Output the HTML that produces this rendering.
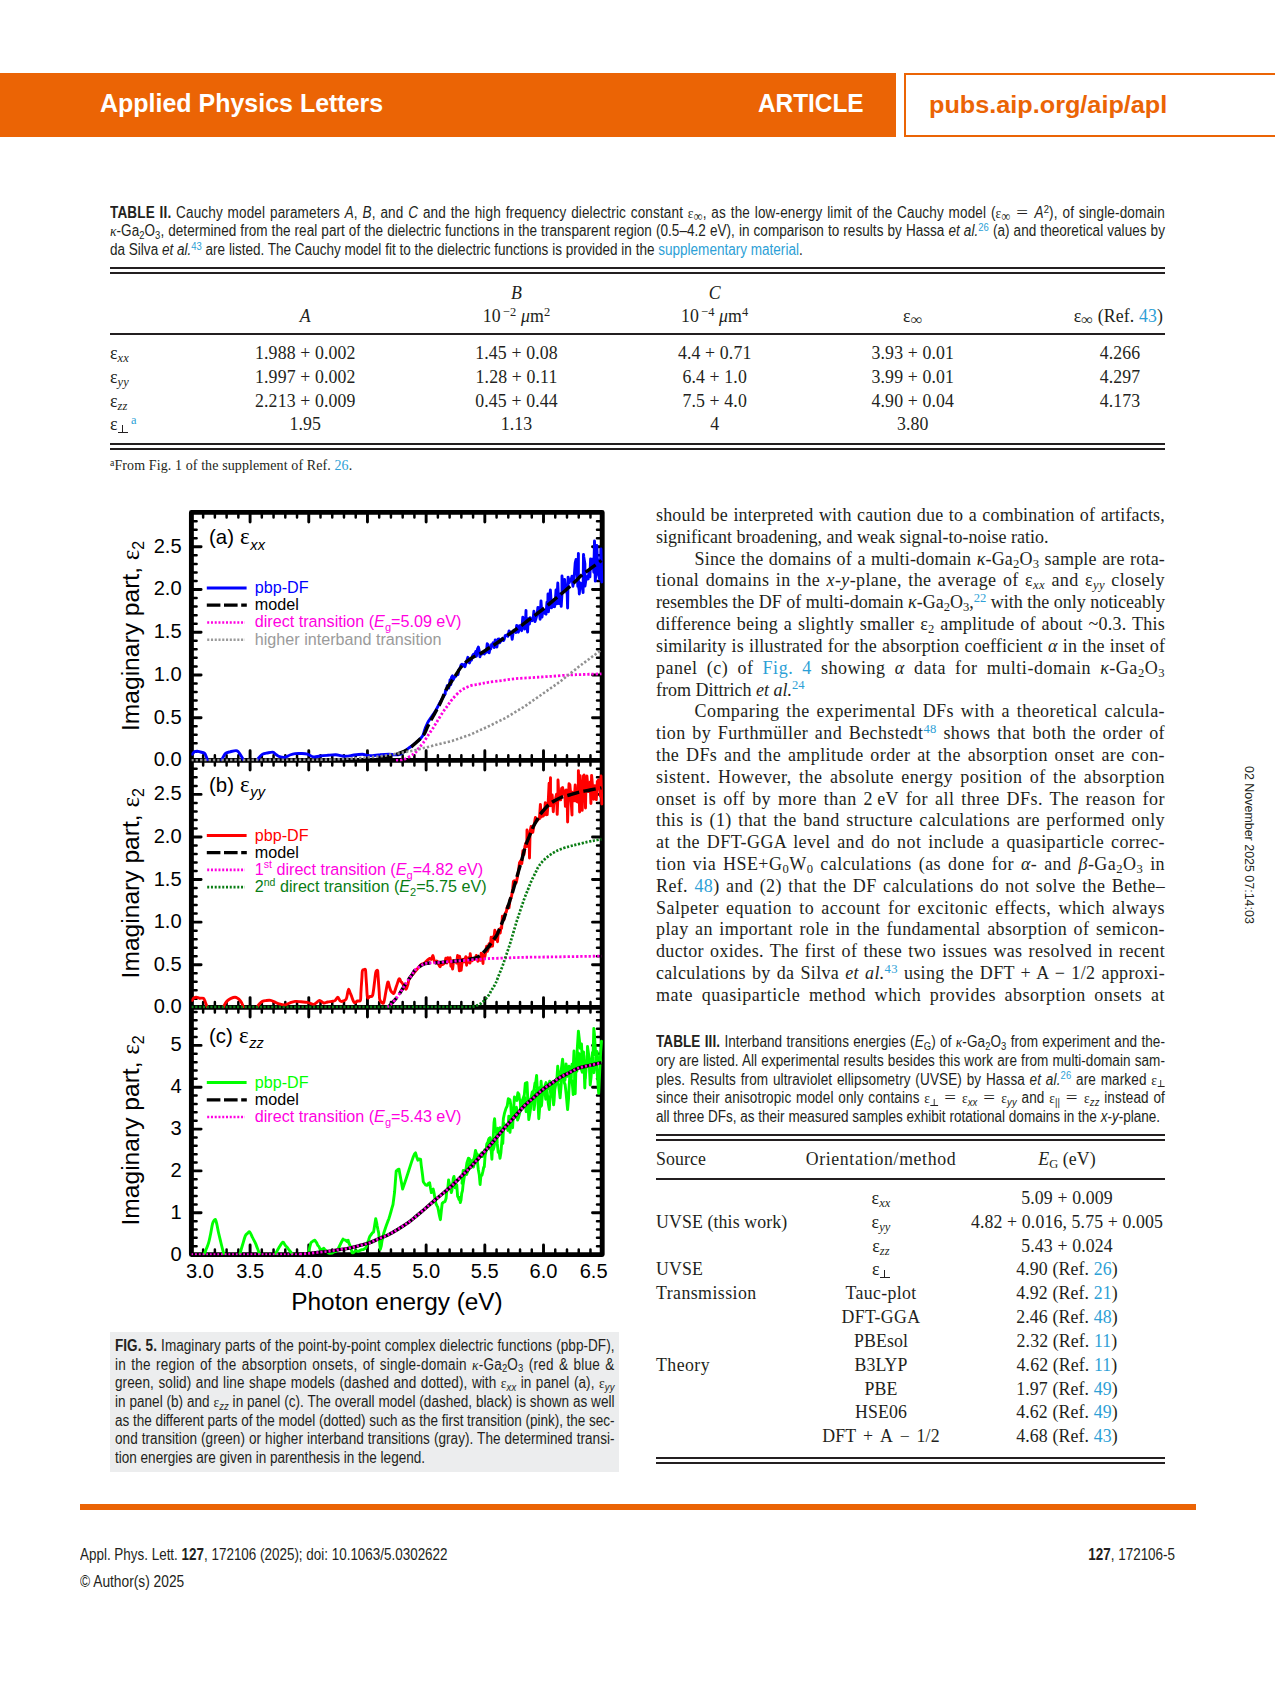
<!DOCTYPE html>
<html><head><meta charset="utf-8"><title>Applied Physics Letters</title>
<style>
html,body{margin:0;padding:0;background:#fff;}
html{width:1275px;height:1688px;overflow:hidden;}
body{width:1275px;height:1688px;position:relative;overflow:hidden;font-family:"Liberation Serif",serif;color:#231f20;}
.l{position:absolute;white-space:nowrap;transform-origin:0 0;}
.serif{font-family:"Liberation Serif",serif;}
.sans{font-family:"Liberation Sans",sans-serif;}
.sp{position:relative;top:-0.48em;font-size:0.7em;line-height:0;}
.sb{position:relative;top:0.24em;font-size:0.7em;line-height:0;}
.r{color:#2d9fd6;}
.inf{font-size:0.92em;top:0.2em;font-family:"Liberation Serif",serif;}
.op{padding:0 0.38em;}
.eq{font-family:"Liberation Serif",serif;font-size:1.1em;display:inline-block;transform:scaleX(1.4);margin:0 0.2em;line-height:0;}
.k{color:inherit;}
.se{font-family:"Liberation Serif",serif;}
i{font-style:italic;}
.perp{display:inline-block;position:relative;width:0.78em;height:0.66em;border-bottom:0.075em solid currentColor;box-sizing:border-box;margin:0 0.03em;}
.perp:after{content:"";position:absolute;left:50%;margin-left:-0.0375em;top:0;bottom:0;width:0.075em;background:currentColor;}
.box{position:absolute;}
</style></head><body>
<div class="box" style="left:0;top:73px;width:896px;height:64px;background:#EB6405"></div>
<div class="box" style="left:904px;top:73px;width:369px;height:60px;border:2px solid #EB6405;border-right:none"></div>
<div class="box" style="left:110px;top:267px;width:1055px;height:2px;background:#231f20"></div>
<div class="box" style="left:110px;top:272px;width:1055px;height:2px;background:#231f20"></div>
<div class="box" style="left:110px;top:333.2px;width:1055px;height:2px;background:#231f20"></div>
<div class="box" style="left:110px;top:443.3px;width:1055px;height:2px;background:#231f20"></div>
<div class="box" style="left:110px;top:448.3px;width:1055px;height:2px;background:#231f20"></div>
<div class="box" style="left:656px;top:1133.5px;width:509px;height:2px;background:#231f20"></div>
<div class="box" style="left:656px;top:1138.7px;width:509px;height:2px;background:#231f20"></div>
<div class="box" style="left:656px;top:1177.5px;width:509px;height:2px;background:#231f20"></div>
<div class="box" style="left:656px;top:1456.6px;width:509px;height:2px;background:#231f20"></div>
<div class="box" style="left:656px;top:1461.6px;width:509px;height:2px;background:#231f20"></div>
<div class="box" style="left:110px;top:1332.3px;width:509px;height:139.7px;background:#ecedee"></div>
<div class="box" style="left:80px;top:1504px;width:1116px;height:6px;background:#EB6405"></div>
<div class="l sans" style="left:1256.8px;top:766.2px;font-size:13.6px;line-height:16px;color:#231f20;transform:rotate(90deg) scaleX(0.916);transform-origin:0 0;">02 November 2025 07:14:03</div>
<svg style="position:absolute;left:0;top:0" width="1275" height="1688" viewBox="0 0 1275 1688" font-family="Liberation Sans, sans-serif">
<defs><clipPath id="cpA"><rect x="191.4" y="512.4" width="412.3" height="249.0"/></clipPath><clipPath id="cpB"><rect x="191.4" y="760.4" width="412.3" height="247.9"/></clipPath><clipPath id="cpC"><rect x="191.4" y="1007.3" width="412.3" height="248.3"/></clipPath></defs>
<path d="M250.09 512.40V522.10M308.77 512.40V522.10M367.46 512.40V522.10M426.14 512.40V522.10M484.83 512.40V522.10M543.51 512.40V522.10M250.09 750.70V770.10M308.77 750.70V770.10M367.46 750.70V770.10M426.14 750.70V770.10M484.83 750.70V770.10M543.51 750.70V770.10M250.09 997.60V1017.00M308.77 997.60V1017.00M367.46 997.60V1017.00M426.14 997.60V1017.00M484.83 997.60V1017.00M543.51 997.60V1017.00M250.09 1244.90V1254.60M308.77 1244.90V1254.60M367.46 1244.90V1254.60M426.14 1244.90V1254.60M484.83 1244.90V1254.60M543.51 1244.90V1254.60M191.40 717.68H201.10M602.20 717.68H592.50M191.40 674.96H201.10M602.20 674.96H592.50M191.40 632.24H201.10M602.20 632.24H592.50M191.40 589.52H201.10M602.20 589.52H592.50M191.40 546.80H201.10M602.20 546.80H592.50M191.40 964.72H201.10M602.20 964.72H592.50M191.40 922.14H201.10M602.20 922.14H592.50M191.40 879.56H201.10M602.20 879.56H592.50M191.40 836.98H201.10M602.20 836.98H592.50M191.40 794.40H201.10M602.20 794.40H592.50M191.40 1212.76H201.10M602.20 1212.76H592.50M191.40 1170.92H201.10M602.20 1170.92H592.50M191.40 1129.08H201.10M602.20 1129.08H592.50M191.40 1087.24H201.10M602.20 1087.24H592.50M191.40 1045.40H201.10M602.20 1045.40H592.50" stroke="#000" stroke-width="2.9" stroke-linecap="round" fill="none"/>
<path d="M203.14 512.40V517.60M214.87 512.40V517.60M226.61 512.40V517.60M238.35 512.40V517.60M261.82 512.40V517.60M273.56 512.40V517.60M285.30 512.40V517.60M297.03 512.40V517.60M320.51 512.40V517.60M332.25 512.40V517.60M343.98 512.40V517.60M355.72 512.40V517.60M379.19 512.40V517.60M390.93 512.40V517.60M402.67 512.40V517.60M414.41 512.40V517.60M437.88 512.40V517.60M449.62 512.40V517.60M461.35 512.40V517.60M473.09 512.40V517.60M496.57 512.40V517.60M508.30 512.40V517.60M520.04 512.40V517.60M531.78 512.40V517.60M555.25 512.40V517.60M566.99 512.40V517.60M578.73 512.40V517.60M590.46 512.40V517.60M203.14 755.20V765.60M214.87 755.20V765.60M226.61 755.20V765.60M238.35 755.20V765.60M261.82 755.20V765.60M273.56 755.20V765.60M285.30 755.20V765.60M297.03 755.20V765.60M320.51 755.20V765.60M332.25 755.20V765.60M343.98 755.20V765.60M355.72 755.20V765.60M379.19 755.20V765.60M390.93 755.20V765.60M402.67 755.20V765.60M414.41 755.20V765.60M437.88 755.20V765.60M449.62 755.20V765.60M461.35 755.20V765.60M473.09 755.20V765.60M496.57 755.20V765.60M508.30 755.20V765.60M520.04 755.20V765.60M531.78 755.20V765.60M555.25 755.20V765.60M566.99 755.20V765.60M578.73 755.20V765.60M590.46 755.20V765.60M203.14 1002.10V1012.50M214.87 1002.10V1012.50M226.61 1002.10V1012.50M238.35 1002.10V1012.50M261.82 1002.10V1012.50M273.56 1002.10V1012.50M285.30 1002.10V1012.50M297.03 1002.10V1012.50M320.51 1002.10V1012.50M332.25 1002.10V1012.50M343.98 1002.10V1012.50M355.72 1002.10V1012.50M379.19 1002.10V1012.50M390.93 1002.10V1012.50M402.67 1002.10V1012.50M414.41 1002.10V1012.50M437.88 1002.10V1012.50M449.62 1002.10V1012.50M461.35 1002.10V1012.50M473.09 1002.10V1012.50M496.57 1002.10V1012.50M508.30 1002.10V1012.50M520.04 1002.10V1012.50M531.78 1002.10V1012.50M555.25 1002.10V1012.50M566.99 1002.10V1012.50M578.73 1002.10V1012.50M590.46 1002.10V1012.50M203.14 1249.40V1254.60M214.87 1249.40V1254.60M226.61 1249.40V1254.60M238.35 1249.40V1254.60M261.82 1249.40V1254.60M273.56 1249.40V1254.60M285.30 1249.40V1254.60M297.03 1249.40V1254.60M320.51 1249.40V1254.60M332.25 1249.40V1254.60M343.98 1249.40V1254.60M355.72 1249.40V1254.60M379.19 1249.40V1254.60M390.93 1249.40V1254.60M402.67 1249.40V1254.60M414.41 1249.40V1254.60M437.88 1249.40V1254.60M449.62 1249.40V1254.60M461.35 1249.40V1254.60M473.09 1249.40V1254.60M496.57 1249.40V1254.60M508.30 1249.40V1254.60M520.04 1249.40V1254.60M531.78 1249.40V1254.60M555.25 1249.40V1254.60M566.99 1249.40V1254.60M578.73 1249.40V1254.60M590.46 1249.40V1254.60M191.40 751.86H196.60M602.20 751.86H597.00M191.40 743.31H196.60M602.20 743.31H597.00M191.40 734.77H196.60M602.20 734.77H597.00M191.40 726.22H196.60M602.20 726.22H597.00M191.40 709.14H196.60M602.20 709.14H597.00M191.40 700.59H196.60M602.20 700.59H597.00M191.40 692.05H196.60M602.20 692.05H597.00M191.40 683.50H196.60M602.20 683.50H597.00M191.40 666.42H196.60M602.20 666.42H597.00M191.40 657.87H196.60M602.20 657.87H597.00M191.40 649.33H196.60M602.20 649.33H597.00M191.40 640.78H196.60M602.20 640.78H597.00M191.40 623.70H196.60M602.20 623.70H597.00M191.40 615.15H196.60M602.20 615.15H597.00M191.40 606.61H196.60M602.20 606.61H597.00M191.40 598.06H196.60M602.20 598.06H597.00M191.40 580.98H196.60M602.20 580.98H597.00M191.40 572.43H196.60M602.20 572.43H597.00M191.40 563.89H196.60M602.20 563.89H597.00M191.40 555.34H196.60M602.20 555.34H597.00M191.40 538.26H196.60M602.20 538.26H597.00M191.40 529.71H196.60M602.20 529.71H597.00M191.40 521.17H196.60M602.20 521.17H597.00M191.40 998.78H196.60M602.20 998.78H597.00M191.40 990.27H196.60M602.20 990.27H597.00M191.40 981.75H196.60M602.20 981.75H597.00M191.40 973.24H196.60M602.20 973.24H597.00M191.40 956.20H196.60M602.20 956.20H597.00M191.40 947.69H196.60M602.20 947.69H597.00M191.40 939.17H196.60M602.20 939.17H597.00M191.40 930.66H196.60M602.20 930.66H597.00M191.40 913.62H196.60M602.20 913.62H597.00M191.40 905.11H196.60M602.20 905.11H597.00M191.40 896.59H196.60M602.20 896.59H597.00M191.40 888.08H196.60M602.20 888.08H597.00M191.40 871.04H196.60M602.20 871.04H597.00M191.40 862.53H196.60M602.20 862.53H597.00M191.40 854.01H196.60M602.20 854.01H597.00M191.40 845.50H196.60M602.20 845.50H597.00M191.40 828.46H196.60M602.20 828.46H597.00M191.40 819.95H196.60M602.20 819.95H597.00M191.40 811.43H196.60M602.20 811.43H597.00M191.40 802.92H196.60M602.20 802.92H597.00M191.40 785.88H196.60M602.20 785.88H597.00M191.40 777.37H196.60M602.20 777.37H597.00M191.40 768.85H196.60M602.20 768.85H597.00M191.40 1246.23H196.60M602.20 1246.23H597.00M191.40 1237.86H196.60M602.20 1237.86H597.00M191.40 1229.50H196.60M602.20 1229.50H597.00M191.40 1221.13H196.60M602.20 1221.13H597.00M191.40 1204.39H196.60M602.20 1204.39H597.00M191.40 1196.02H196.60M602.20 1196.02H597.00M191.40 1187.66H196.60M602.20 1187.66H597.00M191.40 1179.29H196.60M602.20 1179.29H597.00M191.40 1162.55H196.60M602.20 1162.55H597.00M191.40 1154.18H196.60M602.20 1154.18H597.00M191.40 1145.82H196.60M602.20 1145.82H597.00M191.40 1137.45H196.60M602.20 1137.45H597.00M191.40 1120.71H196.60M602.20 1120.71H597.00M191.40 1112.34H196.60M602.20 1112.34H597.00M191.40 1103.98H196.60M602.20 1103.98H597.00M191.40 1095.61H196.60M602.20 1095.61H597.00M191.40 1078.87H196.60M602.20 1078.87H597.00M191.40 1070.50H196.60M602.20 1070.50H597.00M191.40 1062.14H196.60M602.20 1062.14H597.00M191.40 1053.77H196.60M602.20 1053.77H597.00M191.40 1037.03H196.60M602.20 1037.03H597.00M191.40 1028.66H196.60M602.20 1028.66H597.00M191.40 1020.30H196.60M602.20 1020.30H597.00M191.40 1011.93H196.60M602.20 1011.93H597.00" stroke="#000" stroke-width="2.5" stroke-linecap="round" fill="none"/>
<rect x="191.4" y="512.4" width="410.8" height="742.2" fill="none" stroke="#000" stroke-width="4.9" stroke-linejoin="round"/>
<path d="M191.4 760.4H602.2M191.4 1007.3H602.2" stroke="#000" stroke-width="4.8" fill="none"/>
<g clip-path="url(#cpA)">
<path d="M192.1 754.2 C192.5 753.8 193.7 752.3 194.5 751.8 C195.3 751.3 196.2 751.2 197.2 751.2 C198.2 751.2 199.3 751.7 200.5 752.0 C201.7 752.3 203.5 752.5 204.4 753.2 C205.3 753.9 205.5 754.9 206.0 756.0 C206.5 757.1 207.2 759.2 207.4 759.8" stroke="#0000ff" stroke-width="2.9" stroke-linejoin="round" stroke-linecap="round" fill="none"/>
<path d="M221.7 759.8 C222.0 759.2 222.8 757.6 223.5 756.5 C224.2 755.4 224.7 754.0 225.8 753.2 C226.9 752.4 228.3 752.2 230.0 751.8 C231.7 751.4 234.6 750.6 236.0 750.6 C237.4 750.6 237.8 751.4 238.5 752.0 C239.2 752.6 239.4 753.4 240.0 754.2 C240.6 755.0 241.2 756.1 241.8 757.0 C242.4 757.9 243.1 759.3 243.3 759.8" stroke="#0000ff" stroke-width="2.9" stroke-linejoin="round" stroke-linecap="round" fill="none"/>
<path d="M257.2 759.8 C257.6 759.3 258.6 757.9 259.5 757.0 C260.4 756.1 261.2 754.9 262.5 754.2 C263.8 753.5 265.3 753.3 267.0 753.0 C268.7 752.7 271.2 752.0 272.7 752.2 C274.2 752.5 275.0 753.8 276.0 754.5 C277.0 755.2 277.3 755.8 278.8 756.3 C280.3 756.8 283.0 757.5 284.9 757.3 C286.8 757.1 288.3 755.6 290.0 755.0 C291.7 754.4 293.3 753.9 295.1 753.6 C296.9 753.4 299.0 753.4 301.0 753.5 C303.0 753.6 305.2 753.6 307.3 754.2 C309.4 754.8 311.4 756.6 313.5 756.9 C315.6 757.2 317.6 756.3 320.0 756.0 C322.4 755.7 325.1 755.5 327.7 755.3 C330.3 755.1 333.7 754.7 335.9 754.8 C338.1 754.9 339.3 755.5 341.0 755.8 C342.7 756.0 343.8 756.4 346.0 756.3 C348.2 756.2 351.3 755.4 354.0 755.0 C356.7 754.6 360.2 754.2 362.4 754.2 C364.6 754.2 365.3 755.0 367.0 755.3 C368.7 755.5 370.4 755.8 372.6 755.7 C374.8 755.6 377.3 755.0 380.0 754.8 C382.7 754.5 386.6 754.2 388.9 754.2 C391.2 754.2 392.3 754.7 394.0 754.8 C395.7 754.9 397.6 755.0 399.1 754.6 C400.6 754.2 401.6 753.4 403.0 752.5 C404.4 751.6 406.0 750.1 407.3 749.1 C408.6 748.1 409.6 747.5 411.0 746.5 C412.4 745.5 414.1 744.1 415.4 743.0 C416.7 741.9 417.8 741.2 419.0 740.0 C420.2 738.8 421.6 737.7 422.6 735.9 C423.6 734.1 424.1 731.2 425.0 729.0 C425.9 726.8 426.7 724.5 427.7 722.6 C428.7 720.7 429.6 719.5 431.0 717.5 C432.4 715.5 434.3 712.9 435.8 710.4 C437.3 707.9 438.5 705.2 440.0 702.5 C441.5 699.8 444.2 695.4 445.0 694.0" stroke="#0000ff" stroke-width="2.9" stroke-linejoin="round" stroke-linecap="round" fill="none"/>
<path d="M445.0 694.0 L445.5 690.7 L446.5 690.3 L447.2 685.7 L447.8 686.4 L448.7 688.1 L449.4 685.2 L450.1 679.6 L450.8 684.6 L451.5 677.4 L452.5 675.9 L453.3 679.6 L454.4 677.1 L455.2 676.8 L456.0 675.8 L457.0 674.6 L458.0 674.6 L458.8 669.7 L459.5 669.3 L460.3 667.3 L461.1 664.9 L462.0 664.3 L463.1 665.9 L464.1 664.5 L465.0 666.7 L466.1 662.3 L467.2 659.5 L467.9 657.3 L468.6 662.2 L469.5 662.9 L470.6 659.7 L471.5 660.0 L472.5 655.8 L473.5 654.2 L474.6 654.9 L475.7 651.6 L476.4 656.3 L477.4 649.4 L478.4 647.0 L479.2 650.8 L479.9 656.7 L480.8 654.1 L481.4 654.2 L482.5 653.8 L483.3 653.4 L484.4 653.9 L485.3 652.0 L486.4 652.2 L487.2 643.8 L488.1 644.7 L489.2 652.8 L489.9 648.4 L490.7 648.9 L491.6 644.4 L492.2 644.8 L493.1 642.8 L494.2 647.6 L495.2 639.9 L496.2 643.0 L496.9 647.1 L498.0 639.1 L499.0 639.0 L499.7 642.8 L500.7 641.3 L501.4 640.1 L502.1 638.7 L502.8 639.6 L503.5 640.5 L504.1 639.5 L505.2 635.7 L506.0 635.4 L506.8 634.9 L507.9 636.3 L509.1 630.9 L509.8 634.6 L510.4 632.0 L511.5 634.5 L512.2 639.4 L513.1 632.5 L513.9 630.2 L514.8 630.1 L515.9 632.5 L516.7 625.4 L517.5 630.9 L518.4 632.1 L519.5 625.8 L520.6 629.1 L521.7 630.6 L522.8 617.1 L523.8 624.5 L524.7 629.0 L525.3 626.5 L526.0 610.5 L526.1 622.6 L527.1 626.4 L527.6 632.0 L528.2 618.8 L529.4 624.0 L530.1 617.6 L530.9 619.4 L531.8 620.8 L533.0 619.8 L533.9 611.2 L535.0 621.6 L536.1 618.1 L537.2 613.6 L537.9 607.4 L539.0 607.8 L540.1 619.2 L541.0 600.9 L542.0 617.1 L542.7 611.4 L543.8 610.6 L544.9 613.3 L546.0 614.1 L547.0 602.1 L547.7 610.3 L548.0 594.0 L548.4 611.8 L549.3 602.6 L550.4 590.0 L551.5 607.8 L552.2 601.4 L553.0 606.6 L553.9 599.6 L554.6 606.7 L555.8 593.8 L556.0 590.0 L556.7 603.8 L557.8 583.0 L558.7 603.5 L559.6 593.9 L560.5 594.3 L561.2 606.4 L562.0 593.6 L562.0 576.0 L562.8 591.1 L563.7 583.0 L564.6 579.5 L565.3 586.3 L566.2 589.8 L567.2 594.5 L567.6 608.0 L568.1 577.1 L569.3 582.6 L570.1 580.0 L571.0 580.0 L572.0 576.2 L572.9 586.2 L574.1 578.0 L575.2 563.0 L576.0 559.5 L577.1 571.3 L577.8 586.4 L578.4 553.5 L578.4 585.4 L579.2 590.3 L579.3 594.0 L580.2 582.9 L581.4 584.0 L582.3 587.1 L583.1 592.6 L583.5 554.5 L583.8 556.9 L584.9 563.9 L585.0 586.0 L586.1 578.4 L587.2 576.4 L588.1 579.0 L588.9 572.6 L589.9 576.9 L590.6 558.9 L591.2 564.7 L592.0 559.4 L592.7 559.0 L593.8 572.2 L594.5 541.0 L595.3 581.1 L596.1 568.6 L596.8 545.5 L597.9 573.0 L598.5 560.0 L598.6 575.2 L599.6 579.1 L600.6 564.0 L601.0 549.0 L601.8 582.0" stroke="#0000ff" stroke-width="2.9" stroke-linejoin="round" stroke-linecap="round" fill="none"/>
<path d="M380.0 757.8 C381.7 757.6 387.0 757.2 390.0 756.5 C393.0 755.8 395.2 754.9 398.0 753.8 C400.8 752.7 404.0 751.9 407.0 750.0 C410.0 748.1 413.3 745.1 416.0 742.7 C418.7 740.3 421.5 737.9 423.3 735.5 C425.1 733.1 425.7 730.7 426.9 728.2 C428.1 725.8 429.1 723.6 430.5 721.0 C431.9 718.4 433.5 715.6 435.0 712.9 C436.5 710.2 438.1 707.5 439.5 704.8 C440.9 702.1 441.9 699.4 443.1 696.7 C444.3 694.0 444.9 691.8 446.7 688.6 C448.5 685.5 451.6 681.4 454.0 677.8 C456.4 674.2 458.5 670.2 461.2 667.0 C463.9 663.8 466.9 661.1 470.2 658.8 C473.5 656.5 478.0 654.9 481.0 653.2 C484.0 651.5 485.8 650.1 488.2 648.5 C490.7 647.0 492.5 645.9 495.5 643.9 C498.5 641.9 502.7 638.8 506.2 636.3 C509.8 633.8 513.8 631.0 517.0 628.7 C520.2 626.4 522.6 624.5 525.5 622.4 C528.3 620.3 531.1 618.1 533.9 616.0 C536.8 613.9 539.5 612.0 542.4 609.7 C545.3 607.4 548.4 604.7 551.4 602.1 C554.4 599.6 557.4 597.1 560.4 594.6 C563.4 592.0 566.8 589.3 569.4 587.0 C572.0 584.7 573.6 583.0 575.7 581.0 C577.8 578.9 579.3 577.1 582.0 574.9 C584.7 572.7 588.5 570.1 591.8 567.7 C595.0 565.3 599.9 561.7 601.5 560.5" stroke="#000" stroke-width="3.4" stroke-dasharray="12.4 4.4" fill="none"/>
<path d="M396.0 760.4 C397.2 760.3 400.4 760.8 403.5 759.6 C406.6 758.5 411.8 755.4 414.3 753.5 C416.9 751.6 417.3 749.9 418.8 748.1 C420.3 746.3 421.7 745.0 423.3 742.7 C424.9 740.5 426.9 737.3 428.6 734.6 C430.4 731.9 432.4 729.1 434.0 726.5 C435.6 723.9 437.0 721.7 438.5 719.2 C440.0 716.8 441.5 714.3 443.0 712.0 C444.5 709.7 446.1 707.8 447.6 705.7 C449.1 703.6 449.9 702.0 452.2 699.4 C454.5 696.8 458.2 692.6 461.2 690.4 C464.2 688.1 467.2 687.0 470.2 685.9 C473.2 684.8 476.2 684.7 479.2 684.1 C482.2 683.5 484.4 682.9 488.2 682.3 C492.0 681.7 497.2 681.1 501.8 680.5 C506.3 679.9 510.8 679.2 515.3 678.7 C519.8 678.2 524.3 678.1 528.8 677.8 C533.4 677.5 537.9 677.2 542.4 676.9 C546.9 676.6 551.4 676.3 555.9 676.0 C560.4 675.6 565.4 675.2 569.4 675.0 C573.4 674.8 576.5 674.7 580.1 674.6 C583.7 674.5 587.2 674.3 590.8 674.2 C594.4 674.1 599.7 673.9 601.5 673.8" stroke="#ff00e1" stroke-width="2.8" stroke-dasharray="2.3 1.9" fill="none"/>
<path d="M191.4 760.2 C193.7 760.2 200.6 760.2 205.3 760.1 C209.9 760.1 214.5 760.1 219.1 760.1 C223.7 760.1 228.4 760.0 233.0 760.0 C237.6 760.0 242.2 760.0 246.8 760.0 C251.5 759.9 256.1 759.9 260.7 759.9 C265.3 759.9 269.9 759.9 274.6 759.8 C279.2 759.8 283.8 759.8 288.4 759.8 C293.0 759.8 297.7 759.7 302.3 759.7 C306.9 759.7 311.5 759.7 316.1 759.7 C320.8 759.6 326.0 759.7 330.0 759.6 C334.0 759.5 336.7 759.2 340.0 759.1 C343.3 758.9 346.7 758.7 350.0 758.5 C353.3 758.4 356.7 758.2 360.0 758.0 C363.3 757.8 366.7 757.4 370.0 757.1 C373.3 756.9 376.8 756.7 380.0 756.3 C383.2 755.9 386.0 755.4 389.0 754.9 C392.0 754.4 395.0 754.0 398.0 753.5 C401.0 753.0 404.0 752.3 407.0 751.8 C410.0 751.2 413.0 750.7 416.0 750.0 C419.0 749.3 422.0 748.5 425.0 747.7 C428.0 746.9 431.0 746.2 434.0 745.4 C437.0 744.6 440.1 743.9 443.1 743.1 C446.1 742.4 449.2 741.8 452.2 740.9 C455.2 740.0 458.2 738.8 461.2 737.8 C464.2 736.7 467.2 735.8 470.2 734.6 C473.2 733.4 476.2 731.9 479.2 730.5 C482.2 729.2 485.2 727.9 488.2 726.5 C491.2 725.1 494.2 723.5 497.2 722.0 C500.3 720.5 503.3 719.2 506.3 717.5 C509.3 715.8 512.3 713.9 515.3 712.0 C518.3 710.2 521.3 708.6 524.3 706.6 C527.3 704.6 530.3 702.4 533.3 700.3 C536.4 698.2 539.4 696.1 542.4 694.0 C545.4 691.9 548.4 689.8 551.4 687.7 C554.4 685.6 557.4 683.6 560.4 681.4 C563.4 679.1 566.4 676.6 569.4 674.2 C572.4 671.8 575.6 669.2 578.4 667.0 C581.2 664.8 583.5 663.2 586.1 661.3 C588.7 659.4 591.2 657.4 593.8 655.5 C596.4 653.6 600.2 650.8 601.5 649.8" stroke="#909090" stroke-width="2.6" stroke-dasharray="2.3 2.0" fill="none"/>
</g>
<g clip-path="url(#cpB)">
<path d="M192.1 1000.3 C192.4 999.9 193.3 998.5 194.0 998.0 C194.7 997.5 195.3 997.3 196.2 997.3 C197.1 997.3 198.3 998.0 199.5 998.2 C200.7 998.4 202.4 997.7 203.4 998.3 C204.4 998.9 204.7 1000.6 205.3 1002.0 C205.9 1003.4 206.7 1006.0 207.0 1006.8" stroke="#ff0000" stroke-width="2.9" stroke-linejoin="round" stroke-linecap="round" fill="none"/>
<path d="M223.5 1006.8 C223.8 1006.2 224.8 1004.1 225.5 1003.0 C226.2 1001.9 226.9 1001.2 227.8 1000.4 C228.7 999.6 229.8 998.8 231.0 998.3 C232.2 997.8 233.8 997.3 235.0 997.3 C236.2 997.3 237.2 998.0 238.0 998.5 C238.8 999.0 239.4 999.6 240.0 1000.4 C240.6 1001.2 241.3 1002.2 241.8 1003.2 C242.3 1004.2 243.0 1006.0 243.2 1006.6" stroke="#ff0000" stroke-width="2.9" stroke-linejoin="round" stroke-linecap="round" fill="none"/>
<path d="M257.2 1006.8 C257.6 1006.3 258.6 1004.7 259.5 1003.8 C260.4 1002.9 261.4 1001.9 262.5 1001.4 C263.6 1000.9 264.6 1000.8 266.0 1000.6 C267.4 1000.4 269.1 1000.1 270.6 1000.4 C272.1 1000.7 273.6 1001.6 275.0 1002.2 C276.4 1002.8 277.2 1003.3 278.8 1003.8 C280.4 1004.3 283.0 1005.2 284.9 1005.0 C286.8 1004.8 288.3 1003.4 290.0 1002.8 C291.7 1002.2 293.3 1001.6 295.1 1001.4 C296.9 1001.2 299.0 1001.6 301.0 1001.8 C303.0 1002.0 305.2 1002.0 307.3 1002.4 C309.4 1002.8 312.0 1004.4 313.5 1004.4 C315.0 1004.4 315.5 1003.3 316.5 1002.6 C317.5 1001.9 318.4 1000.3 319.6 1000.4 C320.8 1000.5 322.4 1002.7 323.7 1003.0 C325.0 1003.3 326.1 1002.3 327.5 1002.0 C328.9 1001.7 330.6 1001.6 331.8 1001.4 C333.1 1001.2 334.0 1001.3 335.0 1000.6 C336.0 999.9 337.1 997.3 337.9 997.3 C338.7 997.3 339.3 1000.1 340.0 1000.8 C340.7 1001.5 341.0 1001.6 342.0 1001.4 C343.0 1001.1 345.2 1000.7 346.1 999.3 C347.0 997.9 347.2 994.7 347.6 993.0 C348.0 991.3 348.3 989.2 348.7 989.1 C349.1 989.0 349.6 991.5 350.0 992.5 C350.4 993.5 350.5 993.6 351.2 995.3 C351.9 996.9 353.1 1001.4 354.2 1002.4 C355.2 1003.4 356.5 1001.3 357.5 1001.0 C358.5 1000.7 359.8 1001.8 360.4 1000.4 C361.0 999.0 360.7 995.3 360.9 992.7 C361.1 990.1 361.2 987.5 361.4 985.0 C361.6 982.5 361.7 980.3 361.9 977.9 C362.1 975.5 362.0 972.2 362.4 970.8 C362.8 969.4 363.5 969.8 364.0 969.6 C364.5 969.4 365.2 968.6 365.5 969.8 C365.8 971.0 365.8 974.5 366.0 976.9 C366.2 979.3 366.2 980.6 366.5 984.0 C366.8 987.4 366.9 995.2 367.5 997.3 C368.1 999.4 369.1 996.8 370.0 996.5 C370.9 996.2 371.9 997.4 372.6 995.3 C373.3 993.2 373.8 987.8 374.3 984.0 C374.8 980.2 375.3 975.0 375.7 972.8 C376.1 970.6 376.4 970.9 376.7 970.6 C377.0 970.3 377.4 969.6 377.7 970.8 C377.9 972.0 378.0 975.5 378.2 977.9 C378.4 980.3 378.5 982.6 378.7 985.0 C378.9 987.4 379.0 989.8 379.2 992.1 C379.4 994.5 379.3 997.6 379.7 999.3 C380.1 1001.0 380.8 1001.7 381.5 1002.2 C382.2 1002.7 383.1 1004.3 383.8 1002.4 C384.6 1000.5 385.3 994.4 386.0 991.0 C386.7 987.6 387.3 982.7 387.9 982.0 C388.5 981.3 389.0 985.5 389.5 987.0 C390.0 988.5 390.5 990.2 391.0 991.2 C391.5 992.2 392.0 992.5 392.5 992.8 C393.0 993.1 393.3 994.3 394.0 993.2 C394.7 992.1 395.6 988.4 396.5 986.0 C397.4 983.6 398.4 979.6 399.1 978.9 C399.8 978.1 400.3 980.8 400.8 981.5 C401.3 982.2 401.6 982.2 402.2 983.0 C402.8 983.8 403.5 985.5 404.2 986.5 C404.9 987.5 405.6 989.5 406.2 989.1 C406.8 988.7 407.5 985.7 408.0 984.0 C408.5 982.3 408.4 980.6 409.3 978.9 C410.2 977.1 412.1 975.2 413.5 973.5 C414.9 971.8 416.2 970.2 417.5 968.7 C418.8 967.2 419.9 965.4 421.0 964.5 C422.1 963.6 423.0 964.2 424.0 963.5 C425.0 962.8 426.1 961.3 427.0 960.5 C427.9 959.7 429.0 958.7 429.7 958.5 C430.4 958.3 430.8 959.8 431.3 959.3 C431.8 958.8 432.4 955.5 432.8 955.5 C433.2 955.5 433.5 957.8 433.8 959.0 C434.1 960.2 434.3 962.2 434.8 962.6 C435.3 963.0 436.1 960.5 437.0 961.2 C437.9 961.9 439.2 966.4 439.9 966.7 C440.6 967.0 440.8 963.4 441.2 963.0 C441.6 962.6 441.9 964.6 442.5 964.5 C443.1 964.4 444.6 962.9 445.0 962.6" stroke="#ff0000" stroke-width="2.9" stroke-linejoin="round" stroke-linecap="round" fill="none"/>
<path d="M445.0 962.6 L445.8 958.3 L446.9 963.0 L447.8 957.8 L448.5 961.6 L449.4 958.0 L450.1 957.8 L450.9 966.2 L451.9 964.5 L452.6 969.1 L453.6 960.4 L454.5 961.5 L455.4 961.5 L456.1 961.8 L456.7 963.0 L457.6 955.4 L458.5 962.8 L459.4 970.9 L459.5 956.1 L460.4 960.4 L461.2 970.2 L462.3 960.0 L463.3 959.2 L464.1 961.9 L464.7 960.2 L465.8 956.7 L466.6 965.2 L467.3 958.0 L468.0 962.3 L469.2 957.5 L470.0 963.0 L470.2 953.7 L471.1 960.7 L471.9 960.9 L473.0 959.7 L474.0 959.6 L474.7 959.3 L475.4 958.1 L476.3 955.4 L477.2 958.7 L477.9 961.3 L478.9 958.8 L479.6 957.9 L480.4 960.3 L481.2 953.2 L482.3 953.8 L483.0 963.5 L483.4 954.9 L484.4 958.3 L485.1 955.6 L485.9 949.9 L486.7 946.1 L487.3 951.4 L488.1 949.4 L489.1 943.6 L490.2 946.9 L491.1 937.3 L491.8 939.2 L492.5 946.0 L493.3 936.8 L494.0 938.5 L494.8 930.3 L495.9 939.5 L496.8 932.2 L497.5 941.7 L498.2 933.9 L499.2 929.2 L500.2 933.1 L501.0 927.6 L501.6 928.2 L502.4 916.1 L503.3 917.3 L504.1 919.6 L504.8 914.9 L505.5 912.6 L506.3 911.9 L507.1 907.5 L507.9 905.8 L509.0 907.8 L510.0 899.6 L511.0 897.8 L511.6 896.0 L512.7 889.0 L513.4 881.4 L514.4 880.7 L515.2 883.6 L516.3 882.5 L517.4 877.1 L518.5 871.0 L519.5 862.7 L520.7 860.7 L521.8 863.6 L522.9 850.8 L524.0 854.7 L524.9 846.3 L525.9 842.9 L526.8 846.6 L527.0 830.0 L528.0 841.9 L529.1 836.6 L529.5 858.0 L530.1 831.3 L531.1 826.5 L531.7 832.7 L532.8 832.2 L533.7 826.8 L534.4 823.5 L535.4 817.4 L536.5 821.0 L537.3 820.4 L538.3 818.8 L539.4 818.9 L540.4 804.4 L541.2 817.0 L542.2 813.8 L543.3 816.0 L544.4 813.3 L545.3 802.7 L546.1 814.7 L547.2 814.6 L548.3 800.1 L549.1 783.2 L549.8 797.0 L550.5 777.8 L550.5 805.7 L551.4 795.6 L552.0 800.0 L552.2 795.0 L553.3 811.7 L553.9 800.4 L554.6 802.9 L555.6 798.6 L556.5 794.2 L557.2 814.4 L557.9 797.2 L558.0 780.0 L559.0 799.1 L559.7 799.9 L560.7 799.8 L561.6 788.4 L562.6 787.5 L563.8 794.3 L564.7 790.9 L565.4 806.4 L566.3 790.0 L566.4 796.6 L567.1 794.5 L567.6 822.0 L568.1 803.6 L569.0 783.7 L569.9 784.9 L570.9 797.7 L572.0 815.0 L572.1 792.1 L573.1 800.7 L574.1 800.8 L575.2 784.9 L576.3 801.1 L577.4 802.0 L578.3 788.9 L578.4 770.6 L579.1 789.3 L579.6 812.0 L580.1 775.6 L581.1 796.2 L582.2 810.4 L583.4 775.8 L584.0 775.0 L584.2 787.5 L585.3 796.1 L585.5 808.0 L586.0 784.3 L586.9 776.0 L587.8 785.7 L588.4 791.5 L589.5 787.1 L590.2 781.9 L590.9 803.5 L591.6 775.4 L592.7 788.0 L593.7 799.2 L594.8 785.6 L595.5 790.9 L596.3 799.6 L597.3 781.6 L598.4 780.0 L599.3 784.9 L600.4 796.2 L601.0 776.0 L601.8 804.0" stroke="#ff0000" stroke-width="2.9" stroke-linejoin="round" stroke-linecap="round" fill="none"/>
<path d="M388.5 1006.8 C388.9 1006.4 389.2 1006.1 390.8 1004.3 C392.4 1002.5 396.1 998.7 398.0 996.1 C399.9 993.5 401.0 991.3 402.5 988.9 C404.0 986.5 405.5 984.0 407.0 981.7 C408.5 979.5 410.0 977.5 411.5 975.4 C413.0 973.3 413.8 971.1 416.0 969.1 C418.2 967.1 422.0 964.8 425.0 963.7 C428.0 962.7 431.0 963.1 434.0 962.8 C437.0 962.5 440.0 962.4 443.0 962.1 C446.0 961.9 449.0 961.8 452.0 961.5 C455.0 961.2 458.0 960.7 461.0 960.4 C464.0 960.0 467.0 959.9 470.0 959.2 C473.0 958.5 476.0 958.4 479.0 956.4 C482.0 954.4 485.8 950.0 488.0 947.4 C490.2 944.8 491.0 943.2 492.5 941.1 C494.0 939.0 495.6 937.3 497.0 934.8 C498.4 932.2 499.5 928.8 500.8 925.8 C502.0 922.8 503.3 920.1 504.5 916.8 C505.7 913.5 506.9 909.6 508.1 906.0 C509.3 902.3 510.5 899.0 511.7 895.1 C512.9 891.2 514.1 886.7 515.3 882.5 C516.5 878.3 517.7 874.1 518.9 869.9 C520.1 865.7 521.3 861.5 522.5 857.2 C523.6 853.0 524.8 848.2 526.0 844.6 C527.2 841.0 528.4 838.6 529.6 835.6 C530.9 832.6 532.1 829.2 533.3 826.6 C534.5 824.0 535.7 822.4 537.0 820.2 C538.2 818.1 538.5 816.6 540.6 813.9 C542.7 811.2 546.3 806.7 549.6 804.0 C552.9 801.3 557.1 799.2 560.4 797.7 C563.7 796.2 566.4 795.9 569.4 795.0 C572.4 794.1 575.0 793.1 578.4 792.3 C581.8 791.5 586.1 790.8 590.0 790.0 C593.8 789.3 599.6 788.2 601.5 787.8" stroke="#000" stroke-width="3.4" stroke-dasharray="12.4 4.4" fill="none"/>
<path d="M387.0 1007.0 C387.6 1006.6 389.0 1006.4 390.8 1004.6 C392.6 1002.8 396.1 998.7 398.0 996.1 C399.9 993.5 401.0 991.3 402.5 988.9 C404.0 986.5 405.5 984.0 407.0 981.7 C408.5 979.5 410.0 977.5 411.5 975.4 C413.0 973.3 413.8 971.1 416.0 969.1 C418.2 967.1 422.0 964.8 425.0 963.7 C428.0 962.7 430.5 963.1 434.0 962.8 C437.5 962.5 442.0 962.2 446.0 961.9 C450.0 961.6 454.0 961.2 458.0 960.9 C462.0 960.6 466.5 960.3 470.0 960.0 C473.5 959.7 476.0 959.5 479.0 959.3 C482.0 959.1 484.5 958.8 488.0 958.6 C491.5 958.4 496.0 958.3 500.0 958.2 C504.0 958.0 508.0 957.9 512.0 957.7 C516.0 957.6 520.0 957.4 524.0 957.3 C528.0 957.2 532.0 957.2 536.0 957.1 C540.0 957.1 544.0 957.0 548.0 957.0 C552.0 956.9 555.7 956.9 560.0 956.8 C564.3 956.7 569.2 956.6 573.8 956.6 C578.4 956.5 583.1 956.4 587.7 956.3 C592.3 956.3 599.2 956.1 601.5 956.1" stroke="#ff00e1" stroke-width="2.8" stroke-dasharray="2.3 1.9" fill="none"/>
<path d="M191.4 1007.2 C193.7 1007.2 200.7 1007.2 205.3 1007.2 C210.0 1007.2 214.6 1007.2 219.3 1007.2 C223.9 1007.2 228.5 1007.2 233.2 1007.2 C237.8 1007.2 242.5 1007.2 247.1 1007.2 C251.8 1007.2 256.4 1007.2 261.1 1007.2 C265.7 1007.1 270.3 1007.1 275.0 1007.1 C279.6 1007.1 284.3 1007.1 288.9 1007.1 C293.6 1007.1 298.2 1007.1 302.8 1007.1 C307.5 1007.1 312.1 1007.1 316.8 1007.1 C321.4 1007.1 326.1 1007.1 330.7 1007.1 C335.3 1007.1 340.0 1007.1 344.6 1007.1 C349.3 1007.1 353.9 1007.1 358.6 1007.1 C363.2 1007.1 367.8 1007.1 372.5 1007.1 C377.1 1007.1 381.8 1007.1 386.4 1007.1 C391.1 1007.1 395.7 1007.1 400.4 1007.0 C405.0 1007.0 409.6 1007.0 414.3 1007.0 C418.9 1007.0 423.6 1007.0 428.2 1007.0 C432.9 1007.0 437.5 1007.0 442.1 1007.0 C446.8 1007.0 451.4 1007.0 456.1 1007.0 C460.7 1007.0 467.0 1007.1 470.0 1007.0 C473.0 1006.9 472.0 1007.0 473.8 1006.4 C475.6 1005.8 478.6 1005.1 481.0 1003.4 C483.4 1001.7 486.2 998.4 488.0 996.1 C489.8 993.8 490.5 991.9 491.8 989.8 C493.0 987.7 494.3 986.0 495.5 983.5 C496.7 981.0 497.9 977.5 499.1 974.5 C500.3 971.5 501.5 968.8 502.7 965.5 C503.9 962.2 505.1 958.3 506.4 954.6 C507.6 951.0 508.8 947.6 510.0 943.8 C511.2 940.0 512.3 936.0 513.5 932.1 C514.7 928.2 515.8 924.2 517.0 920.4 C518.2 916.6 519.4 913.2 520.6 909.5 C521.9 905.9 523.1 902.0 524.3 898.7 C525.5 895.4 526.7 892.7 527.9 889.7 C529.1 886.7 530.3 883.4 531.5 880.7 C532.7 878.0 533.9 875.9 535.1 873.5 C536.4 871.0 537.0 868.8 538.8 866.2 C540.6 863.6 543.0 860.7 546.0 858.1 C549.0 855.5 552.9 852.9 556.8 850.9 C560.7 848.9 565.8 847.5 569.4 846.4 C573.0 845.3 575.4 844.9 578.5 844.1 C581.5 843.4 584.8 842.5 587.5 841.9 C590.2 841.3 592.2 841.0 594.5 840.5 C596.8 840.1 600.3 839.4 601.5 839.2" stroke="#0a7d14" stroke-width="2.7" stroke-dasharray="2.2 1.6" fill="none"/>
</g>
<g clip-path="url(#cpC)">
<path d="M204.4 1253.6 C204.8 1252.8 205.8 1250.2 206.5 1248.5 C207.2 1246.8 207.8 1245.5 208.5 1243.2 C209.2 1240.9 209.8 1237.7 210.5 1234.5 C211.2 1231.3 211.9 1226.1 212.5 1223.8 C213.1 1221.5 213.5 1221.2 214.0 1220.5 C214.5 1219.8 215.1 1219.0 215.6 1219.8 C216.1 1220.5 216.5 1222.8 217.0 1225.0 C217.5 1227.2 217.9 1230.0 218.6 1233.0 C219.3 1236.0 220.2 1239.6 221.0 1243.0 C221.8 1246.4 223.2 1251.8 223.7 1253.6" stroke="#00ff00" stroke-width="2.9" stroke-linejoin="round" stroke-linecap="round" fill="none"/>
<path d="M240.0 1253.6 C240.4 1252.2 241.6 1247.9 242.5 1245.0 C243.4 1242.1 244.4 1238.0 245.2 1236.1 C246.0 1234.1 246.7 1234.0 247.5 1233.3 C248.3 1232.6 249.0 1231.3 249.8 1232.0 C250.6 1232.7 251.6 1235.6 252.5 1237.5 C253.4 1239.4 254.6 1241.4 255.4 1243.2 C256.2 1245.0 256.8 1246.8 257.5 1248.5 C258.2 1250.2 259.1 1252.8 259.4 1253.6" stroke="#00ff00" stroke-width="2.9" stroke-linejoin="round" stroke-linecap="round" fill="none"/>
<path d="M275.7 1253.6 C276.2 1252.6 277.8 1249.4 279.0 1247.5 C280.2 1245.6 281.9 1242.6 282.9 1242.2 C283.9 1241.8 284.3 1244.2 285.0 1245.0 C285.7 1245.8 286.2 1246.4 287.0 1247.3 C287.8 1248.2 288.7 1249.5 289.5 1250.5 C290.3 1251.5 291.6 1253.1 292.0 1253.6" stroke="#00ff00" stroke-width="2.9" stroke-linejoin="round" stroke-linecap="round" fill="none"/>
<path d="M462.0 1183.2 L463.2 1170.5 L464.0 1170.5 L465.0 1170.6 L465.8 1173.2 L466.6 1174.5 L467.6 1171.5 L468.7 1169.1 L469.7 1162.3 L470.6 1166.5 L471.3 1167.1 L472.4 1160.4 L473.5 1167.0 L474.6 1161.9 L475.6 1156.8 L476.4 1158.2 L477.2 1154.2 L478.3 1159.4 L479.2 1156.0 L480.0 1154.8 L480.9 1156.5 L481.7 1152.6 L482.5 1156.6 L483.5 1153.4 L484.7 1149.7 L485.6 1153.4 L486.4 1150.2 L487.3 1144.1 L488.1 1148.8 L489.3 1140.9 L490.1 1137.7 L491.2 1141.8 L492.4 1147.2 L493.2 1149.8 L494.1 1146.8 L495.2 1140.1 L496.5 1140.5 L497.5 1128.3 L498.8 1134.8 L500.1 1127.8 L501.0 1133.0 L502.0 1133.2 L502.8 1143.5 L503.7 1123.1 L504.4 1124.5 L505.4 1126.3 L506.6 1125.4 L507.9 1130.4 L508.8 1116.1 L510.0 1132.3 L511.3 1118.0 L512.4 1113.5 L513.6 1115.0 L514.5 1113.5 L515.4 1116.9 L516.4 1107.1 L517.6 1120.0 L518.5 1117.7 L519.6 1113.5 L520.8 1105.9 L521.6 1102.1 L522.4 1105.2 L523.5 1100.5 L524.6 1106.9 L525.3 1097.6 L526.1 1111.7 L527.3 1105.9 L528.1 1111.3 L529.1 1099.5 L530.2 1101.9 L531.2 1097.0 L532.2 1092.0 L533.2 1094.2 L534.0 1109.6 L535.2 1100.8 L536.4 1089.9 L537.5 1090.3 L538.4 1090.3 L539.3 1087.7 L540.2 1106.2 L541.1 1081.3 L542.1 1095.4 L543.1 1089.1 L543.9 1093.6 L544.7 1087.2 L545.7 1099.2 L546.5 1084.0 L547.5 1086.9 L548.5 1088.5 L549.7 1081.1 L550.6 1092.6 L551.3 1082.7 L552.5 1081.8 L553.3 1087.8 L554.5 1089.6 L555.4 1086.0 L556.5 1079.3 L557.7 1081.4 L558.8 1086.2 L560.1 1097.8 L560.9 1088.5 L561.7 1078.0 L562.8 1062.9 L563.9 1078.0 L565.0 1079.9 L566.1 1063.9 L567.0 1076.4 L568.2 1076.1 L569.0 1066.2 L570.1 1075.6 L571.1 1077.5 L572.0 1064.3 L573.1 1070.1 L574.0 1051.0 L575.2 1093.7 L576.0 1066.5 L576.9 1071.2 L577.7 1052.6 L578.6 1065.7 L579.6 1053.7 L580.4 1065.2 L581.3 1069.0 L582.3 1072.2 L583.2 1056.8 L584.1 1061.7 L585.1 1078.2 L585.9 1071.2 L587.1 1056.0 L588.2 1059.4 L589.2 1059.3 L590.5 1077.7 L591.4 1063.6 L592.2 1069.4 L593.1 1057.5 L593.8 1072.8 L595.1 1066.0 L596.3 1060.7 L597.1 1051.5 L597.9 1061.1 L599.0 1061.4 L600.0 1058.9 L600.7 1061.7" stroke="#00ff00" stroke-width="2.9" stroke-linejoin="round" stroke-linecap="round" fill="none"/>
<path d="M308.4 1253.6 L309.2 1250.0 L309.8 1247.0 L310.8 1243.1 L311.4 1242.2 L312.3 1241.6 L313.0 1241.0 L313.9 1240.6 L314.9 1240.2 L316.7 1242.9 L317.8 1245.5 L318.9 1246.5 L320.6 1250.4 L321.4 1249.7 L322.2 1249.0 L323.0 1249.3 L323.7 1248.3 L324.8 1249.5 L326.8 1251.5 L328.7 1253.1 L329.8 1253.4 L332.2 1253.0 L334.0 1251.8 L335.5 1251.6 L337.9 1249.3 L339.3 1246.5 L340.5 1244.0 L342.0 1241.0 L343.0 1239.1 L344.0 1239.9 L345.5 1240.2 L347.1 1241.6 L348.1 1240.2 L349.0 1243.3 L350.2 1246.0 L351.3 1249.6 L352.2 1252.8 L353.4 1252.8 L355.2 1251.0 L357.2 1251.0 L358.3 1251.4 L360.6 1250.1 L362.0 1249.6 L363.4 1249.5 L365.5 1248.3 L366.3 1246.6 L367.5 1243.0 L368.6 1240.0 L369.5 1237.1 L370.2 1235.8 L371.6 1234.0 L372.5 1232.7 L373.6 1232.0 L374.7 1225.0 L375.7 1218.7 L376.6 1222.6 L377.2 1226.0 L377.9 1229.5 L378.7 1233.0 L379.5 1241.0 L380.3 1249.3 L381.3 1245.9 L382.0 1241.0 L382.6 1238.6 L383.8 1233.0 L385.2 1228.7 L386.3 1225.5 L387.8 1221.4 L388.9 1218.7 L389.9 1215.3 L391.0 1211.5 L391.7 1208.9 L393.0 1204.5 L393.6 1199.8 L394.6 1192.0 L395.5 1179.8 L396.2 1171.0 L397.1 1170.7 L397.6 1169.8 L398.2 1169.4 L399.0 1169.2 L399.9 1174.2 L400.8 1179.0 L401.8 1184.5 L402.6 1189.0 L405.8 1179.7 L408.0 1173.0 L411.4 1162.4 L413.4 1156.5 L414.5 1154.0 L415.5 1152.9 L416.7 1157.0 L417.9 1160.2 L418.4 1159.4 L419.2 1159.0 L420.1 1159.7 L420.6 1159.2 L421.2 1165.1 L422.0 1171.0 L422.6 1175.5 L423.3 1181.8 L424.1 1183.0 L425.0 1184.2 L425.7 1184.9 L426.9 1185.4 L427.7 1184.6 L428.3 1183.5 L428.8 1183.2 L429.6 1182.7 L430.5 1188.0 L431.4 1192.6 L432.3 1190.5 L433.2 1189.0 L434.1 1193.3 L434.6 1196.5 L435.1 1199.3 L435.9 1203.4 L436.9 1205.6 L437.7 1207.0 L438.3 1209.6 L439.0 1213.5 L439.5 1215.9 L440.4 1219.7 L441.3 1211.0 L442.2 1203.4 L443.6 1202.1 L445.0 1201.6 L446.1 1198.2 L446.8 1190.5 L447.9 1187.4 L448.6 1180.0 L449.4 1183.8 L450.0 1186.5 L450.6 1188.0 L451.3 1192.6 L451.9 1190.6 L452.7 1184.0 L453.3 1178.2 L454.0 1176.4 L455.2 1187.9 L455.8 1186.5 L456.7 1184.7 L457.6 1196.2 L458.3 1197.4 L459.0 1199.6 L459.6 1197.5 L460.3 1202.5 L461.0 1200.0 L461.7 1193.5 L462.5 1190.6 L463.0 1185.4 L464.7 1174.1 L465.7 1171.5 L466.9 1163.0 L468.4 1158.3 L469.1 1158.4 L470.2 1160.5 L471.3 1166.6 L472.0 1162.0 L473.1 1161.1 L474.3 1157.5 L475.5 1150.4 L476.5 1153.8 L477.5 1162.6 L478.3 1169.5 L479.3 1175.1 L480.1 1184.5 L480.9 1175.5 L481.9 1175.5 L482.9 1171.4 L483.7 1167.4 L484.3 1166.9 L485.0 1157.0 L485.7 1150.6 L486.4 1147.5 L486.9 1143.6 L487.8 1142.5 L488.5 1139.6 L489.1 1138.5 L489.8 1145.4 L490.5 1149.0 L491.3 1151.1 L491.9 1159.2 L492.5 1146.8 L493.2 1138.5 L494.0 1122.8 L494.6 1118.7 L495.2 1127.9 L496.0 1131.5 L496.7 1133.3 L497.3 1143.9 L498.2 1152.3 L498.7 1151.5 L499.4 1154.0 L500.0 1158.3 L500.9 1152.8 L502.3 1135.5 L503.4 1118.5 L504.5 1113.2 L506.0 1108.3 L507.2 1106.0 L508.3 1098.7 L509.9 1099.7 L510.7 1104.2 L511.3 1114.0 L511.9 1118.4 L512.6 1127.7 L513.5 1112.0 L514.4 1097.0 L515.6 1099.5 L516.7 1100.5 L517.9 1092.8 L518.9 1094.3 L519.4 1098.6 L520.3 1101.5 L521.0 1109.9 L521.6 1107.8 L522.7 1099.4 L524.3 1095.0 L525.3 1083.4 L527.0 1082.6 L527.9 1101.5 L528.8 1119.6 L529.9 1112.9 L531.0 1105.5 L531.9 1101.9 L533.3 1091.6 L534.1 1089.3 L535.0 1083.0 L535.6 1083.5 L536.6 1075.4 L537.7 1097.0 L538.8 1118.7 L539.7 1107.2 L540.6 1106.5 L541.5 1105.7 L542.4 1095.2 L543.2 1092.5 L544.2 1088.5 L545.0 1085.6 L546.0 1082.6 L546.6 1085.5 L547.4 1094.5 L548.2 1102.8 L548.7 1106.0 L549.3 1109.5 L550.0 1097.5 L550.5 1096.3 L551.4 1089.8 L552.1 1088.9 L552.8 1095.5 L553.6 1104.9 L554.1 1100.6 L555.2 1081.3 L555.9 1083.0 L556.9 1078.8 L557.7 1066.3 L558.3 1073.6 L559.0 1072.0 L559.7 1080.5 L560.4 1077.2 L561.5 1068.0 L562.6 1059.1 L564.2 1082.7 L565.1 1084.5 L566.2 1094.4 L567.6 1109.6 L568.5 1099.2 L569.0 1088.5 L569.7 1077.9 L570.3 1068.1 L571.3 1079.9 L572.1 1081.0 L573.2 1094.6 L573.9 1093.4 L575.0 1075.3 L576.2 1062.0 L577.2 1050.2 L578.4 1031.2 L579.4 1040.0 L580.3 1048.3 L581.5 1044.0 L582.6 1068.5 L583.6 1052.0 L584.8 1088.0 L585.7 1064.3 L586.2 1067.0 L587.0 1063.8 L587.5 1046.5 L588.5 1053.7 L589.3 1062.0 L590.2 1085.0 L591.1 1077.2 L591.8 1058.8 L592.5 1052.5 L593.1 1054.9 L593.8 1028.5 L594.4 1033.8 L595.2 1047.0 L595.9 1056.8 L596.5 1064.5 L597.6 1079.0 L598.7 1093.4 L599.9 1067.0 L600.7 1051.9 L601.5 1041.1" stroke="#00ff00" stroke-width="2.9" stroke-linejoin="round" stroke-linecap="round" fill="none"/>
<path d="M300.0 1254.2 C301.2 1254.1 304.4 1253.9 307.3 1253.6 C310.2 1253.3 314.1 1252.9 317.5 1252.5 C320.9 1252.1 324.3 1251.8 327.7 1251.4 C331.1 1251.0 334.5 1250.4 337.9 1249.8 C341.3 1249.3 344.7 1249.0 348.1 1248.3 C351.5 1247.6 354.9 1246.6 358.3 1245.8 C361.7 1244.9 365.1 1244.4 368.5 1243.2 C371.9 1242.0 375.3 1240.3 378.7 1238.8 C382.1 1237.3 385.7 1236.0 388.9 1234.4 C392.1 1232.8 394.6 1231.3 398.0 1229.2 C401.4 1227.1 406.3 1223.9 409.3 1221.8 C412.3 1219.7 413.4 1218.6 416.0 1216.4 C418.6 1214.2 422.0 1211.2 425.0 1208.7 C428.0 1206.1 431.0 1203.5 434.0 1200.9 C437.0 1198.3 440.1 1195.7 443.1 1193.2 C446.1 1190.6 449.2 1188.2 452.2 1185.4 C455.2 1182.6 458.2 1179.4 461.2 1176.4 C464.2 1173.4 467.2 1170.6 470.2 1167.4 C473.2 1164.2 476.2 1160.8 479.2 1157.5 C482.2 1154.1 485.7 1150.4 488.2 1147.5 C490.7 1144.6 492.2 1142.7 494.2 1140.3 C496.2 1137.9 498.3 1135.5 500.3 1133.1 C502.3 1130.7 503.8 1128.8 506.3 1125.9 C508.8 1123.0 512.3 1119.3 515.3 1116.0 C518.3 1112.6 521.3 1109.0 524.3 1106.0 C527.3 1103.0 530.3 1100.6 533.3 1097.9 C536.4 1095.2 539.4 1092.2 542.4 1089.8 C545.4 1087.4 548.4 1085.6 551.4 1083.5 C554.4 1081.4 557.4 1079.0 560.4 1077.2 C563.4 1075.4 566.4 1074.2 569.4 1072.7 C572.4 1071.1 575.0 1069.3 578.4 1068.1 C581.8 1066.9 586.1 1066.3 590.0 1065.4 C593.8 1064.5 599.6 1063.2 601.5 1062.7" stroke="#000" stroke-width="3.4" fill="none"/>
<path d="M191.4 1254.2 C193.7 1254.2 200.4 1254.2 205.0 1254.2 C209.5 1254.2 214.0 1254.2 218.6 1254.2 C223.1 1254.2 227.6 1254.2 232.1 1254.2 C236.7 1254.2 241.2 1254.2 245.7 1254.2 C250.2 1254.2 254.7 1254.2 259.3 1254.2 C263.8 1254.2 268.3 1254.2 272.9 1254.2 C277.4 1254.2 281.9 1254.2 286.4 1254.2 C290.9 1254.2 297.7 1254.2 300.0 1254.2" stroke="#ff00e1" stroke-width="1.9" stroke-dasharray="1.8 1.9" fill="none"/>
<path d="M300.0 1254.2 C301.2 1254.1 304.4 1253.9 307.3 1253.6 C310.2 1253.3 314.1 1252.9 317.5 1252.5 C320.9 1252.1 324.3 1251.8 327.7 1251.4 C331.1 1251.0 334.5 1250.4 337.9 1249.8 C341.3 1249.3 344.7 1249.0 348.1 1248.3 C351.5 1247.6 354.9 1246.6 358.3 1245.8 C361.7 1244.9 365.1 1244.4 368.5 1243.2 C371.9 1242.0 375.3 1240.3 378.7 1238.8 C382.1 1237.3 385.7 1236.0 388.9 1234.4 C392.1 1232.8 394.6 1231.3 398.0 1229.2 C401.4 1227.1 406.3 1223.9 409.3 1221.8 C412.3 1219.7 413.4 1218.6 416.0 1216.4 C418.6 1214.2 422.0 1211.2 425.0 1208.7 C428.0 1206.1 431.0 1203.5 434.0 1200.9 C437.0 1198.3 440.1 1195.7 443.1 1193.2 C446.1 1190.6 449.2 1188.2 452.2 1185.4 C455.2 1182.6 458.2 1179.4 461.2 1176.4 C464.2 1173.4 467.2 1170.6 470.2 1167.4 C473.2 1164.2 476.2 1160.8 479.2 1157.5 C482.2 1154.1 485.7 1150.4 488.2 1147.5 C490.7 1144.6 492.2 1142.7 494.2 1140.3 C496.2 1137.9 498.3 1135.5 500.3 1133.1 C502.3 1130.7 503.8 1128.8 506.3 1125.9 C508.8 1123.0 512.3 1119.3 515.3 1116.0 C518.3 1112.6 521.3 1109.0 524.3 1106.0 C527.3 1103.0 530.3 1100.6 533.3 1097.9 C536.4 1095.2 539.4 1092.2 542.4 1089.8 C545.4 1087.4 548.4 1085.6 551.4 1083.5 C554.4 1081.4 557.4 1079.0 560.4 1077.2 C563.4 1075.4 566.4 1074.2 569.4 1072.7 C572.4 1071.1 575.0 1069.3 578.4 1068.1 C581.8 1066.9 586.1 1066.3 590.0 1065.4 C593.8 1064.5 599.6 1063.2 601.5 1062.7" stroke="#ff00e1" stroke-width="2.7" stroke-dasharray="2.1 2.0" fill="none"/>
</g>
<text x="181.6" y="723.6" font-size="20.1" text-anchor="end">0.5</text>
<text x="181.6" y="970.6" font-size="20.1" text-anchor="end">0.5</text>
<text x="181.6" y="680.9" font-size="20.1" text-anchor="end">1.0</text>
<text x="181.6" y="928.0" font-size="20.1" text-anchor="end">1.0</text>
<text x="181.6" y="638.1" font-size="20.1" text-anchor="end">1.5</text>
<text x="181.6" y="885.5" font-size="20.1" text-anchor="end">1.5</text>
<text x="181.6" y="595.4" font-size="20.1" text-anchor="end">2.0</text>
<text x="181.6" y="842.9" font-size="20.1" text-anchor="end">2.0</text>
<text x="181.6" y="552.7" font-size="20.1" text-anchor="end">2.5</text>
<text x="181.6" y="800.3" font-size="20.1" text-anchor="end">2.5</text>
<text x="181.6" y="766.3" font-size="20.1" text-anchor="end">0.0</text>
<text x="181.6" y="1013.2" font-size="20.1" text-anchor="end">0.0</text>
<text x="181.6" y="1260.5" font-size="20.1" text-anchor="end">0</text>
<text x="181.6" y="1218.7" font-size="20.1" text-anchor="end">1</text>
<text x="181.6" y="1176.8" font-size="20.1" text-anchor="end">2</text>
<text x="181.6" y="1135.0" font-size="20.1" text-anchor="end">3</text>
<text x="181.6" y="1093.1" font-size="20.1" text-anchor="end">4</text>
<text x="181.6" y="1051.3" font-size="20.1" text-anchor="end">5</text>
<text x="200.0" y="1277.8" font-size="20.1" text-anchor="middle">3.0</text>
<text x="250.1" y="1277.8" font-size="20.1" text-anchor="middle">3.5</text>
<text x="308.8" y="1277.8" font-size="20.1" text-anchor="middle">4.0</text>
<text x="367.5" y="1277.8" font-size="20.1" text-anchor="middle">4.5</text>
<text x="426.1" y="1277.8" font-size="20.1" text-anchor="middle">5.0</text>
<text x="484.8" y="1277.8" font-size="20.1" text-anchor="middle">5.5</text>
<text x="543.5" y="1277.8" font-size="20.1" text-anchor="middle">6.0</text>
<text x="593.6" y="1277.8" font-size="20.1" text-anchor="middle">6.5</text>
<text x="397" y="1309.7" font-size="24.4" text-anchor="middle">Photon energy (eV)</text>
<text transform="translate(138.9 635.9) rotate(-90)" font-size="24.6" text-anchor="middle">Imaginary part, <tspan font-family="Liberation Serif, serif" font-size="25">ε</tspan><tspan font-size="16" dy="5">2</tspan></text>
<text transform="translate(138.9 883.3) rotate(-90)" font-size="24.6" text-anchor="middle">Imaginary part, <tspan font-family="Liberation Serif, serif" font-size="25">ε</tspan><tspan font-size="16" dy="5">2</tspan></text>
<text transform="translate(138.9 1130.4) rotate(-90)" font-size="24.6" text-anchor="middle">Imaginary part, <tspan font-family="Liberation Serif, serif" font-size="25">ε</tspan><tspan font-size="16" dy="5">2</tspan></text>
<text x="209" y="544.4" font-size="20.4">(a) <tspan font-family="Liberation Serif, serif" font-size="23" dx="0.5">ε</tspan><tspan font-size="14.6" font-style="italic" dy="5.2" dx="0.6">xx</tspan></text>
<text x="209" y="792.0" font-size="20.4">(b) <tspan font-family="Liberation Serif, serif" font-size="23" dx="0.5">ε</tspan><tspan font-size="14.6" font-style="italic" dy="5.2" dx="0.6">yy</tspan></text>
<text x="209" y="1043.0" font-size="20.4">(c) <tspan font-family="Liberation Serif, serif" font-size="23" dx="0.5">ε</tspan><tspan font-size="14.6" font-style="italic" dy="5.2" dx="0.6">zz</tspan></text>
<path d="M206.8 588.0H246.6" stroke="#0000ff" stroke-width="3" fill="none"/>
<text x="254.8" y="592.9" font-size="16.15" fill="#0000ff">pbp-DF</text>
<path d="M206.8 605.2H246.8" stroke="#000" stroke-width="3.3" stroke-dasharray="13.6 3.6" fill="none"/>
<text x="254.8" y="610.1" font-size="16.15" fill="#000">model</text>
<path d="M207.2 622.5H245" stroke="#ff00e1" stroke-width="2.7" stroke-dasharray="2.0 1.76" fill="none"/>
<text x="254.8" y="627.4" font-size="16.15" fill="#ff00e1">direct transition (<tspan font-style="italic">E</tspan><tspan font-size="11" dy="3.8">g</tspan><tspan dy="-3.8">=5.09 eV)</tspan></text>
<path d="M207.2 639.7H245" stroke="#9a9a9a" stroke-width="2.5" stroke-dasharray="2.1 1.66" fill="none"/>
<text x="254.8" y="644.6" font-size="16.15" fill="#9a9a9a">higher interband transition</text>
<path d="M206.8 835.6H246.6" stroke="#ff0000" stroke-width="3" fill="none"/>
<text x="254.8" y="840.5" font-size="16.15" fill="#ff0000">pbp-DF</text>
<path d="M206.8 852.7H246.8" stroke="#000" stroke-width="3.3" stroke-dasharray="13.6 3.6" fill="none"/>
<text x="254.8" y="857.6" font-size="16.15" fill="#000">model</text>
<path d="M207.2 869.9H245" stroke="#ff00e1" stroke-width="2.7" stroke-dasharray="2.0 1.76" fill="none"/>
<text x="254.8" y="874.8" font-size="16.15" fill="#ff00e1">1<tspan font-size="10.5" dy="-6.5">st</tspan><tspan dy="6.5"> direct transition (<tspan font-style="italic">E</tspan><tspan font-size="11" dy="3.8">g</tspan><tspan dy="-3.8">=4.82 eV)</tspan></tspan></text>
<path d="M207.2 887.1H245" stroke="#0a7d14" stroke-width="2.7" stroke-dasharray="2.0 1.76" fill="none"/>
<text x="254.8" y="892.0" font-size="16.15" fill="#0a7d14">2<tspan font-size="10.5" dy="-6.5">nd</tspan><tspan dy="6.5"> direct transition (<tspan font-style="italic">E</tspan><tspan font-size="11" dy="3.8">2</tspan><tspan dy="-3.8">=5.75 eV)</tspan></tspan></text>
<path d="M206.8 1082.6H246.6" stroke="#00ff00" stroke-width="3" fill="none"/>
<text x="254.8" y="1087.5" font-size="16.15" fill="#00ff00">pbp-DF</text>
<path d="M206.8 1099.8H246.8" stroke="#000" stroke-width="3.3" stroke-dasharray="13.6 3.6" fill="none"/>
<text x="254.8" y="1104.7" font-size="16.15" fill="#000">model</text>
<path d="M207.2 1117.0H245" stroke="#ff00e1" stroke-width="2.7" stroke-dasharray="2.0 1.76" fill="none"/>
<text x="254.8" y="1121.9" font-size="16.15" fill="#ff00e1">direct transition (<tspan font-style="italic">E</tspan><tspan font-size="11" dy="3.8">g</tspan><tspan dy="-3.8">=5.43 eV)</tspan></text>
</svg>
<div class="l sans" style="left:100.00px;top:86.79px;font-size:25.6px;line-height:33.28px;color:#fff;font-weight:bold;transform:scaleX(0.976);">Applied Physics Letters</div>
<div class="l sans" style="left:758.00px;top:86.89px;font-size:25.4px;line-height:33.02px;color:#fff;font-weight:bold;transform:scaleX(0.96);">ARTICLE</div>
<div class="l sans" style="left:929.00px;top:89.38px;font-size:24.2px;line-height:31.46px;color:#EB6405;font-weight:bold;transform:scaleX(1.043);">pubs.aip.org/aip/apl</div>
<div class="l sans" style="left:110.00px;top:202.75px;font-size:15.6px;line-height:20.28px;transform:scaleX(0.868);word-spacing:1.021px;letter-spacing:0.162px;"><b>TABLE II.</b> Cauchy model parameters <i>A</i>, <i>B</i>, and <i>C</i> and the high frequency dielectric constant <span class="se">ε</span><span class="sb inf">∞</span>, as the low-energy limit of the Cauchy model (<span class="se">ε</span><span class="sb inf">∞</span> <span class="eq">=</span> <i>A</i><span class="sp k">2</span>), of single-domain</div>
<div class="l sans" style="left:110.00px;top:221.40px;font-size:15.6px;line-height:20.28px;transform:scaleX(0.868);word-spacing:0.269px;letter-spacing:0.043px;"><span class="se"><i>κ</i></span>-Ga<span class="sb">2</span>O<span class="sb">3</span>, determined from the real part of the dielectric functions in the transparent region (0.5–4.2 eV), in comparison to results by Hassa <i>et al.</i><span class="sp r">26</span> (a) and theoretical values by</div>
<div class="l sans" style="left:110.00px;top:240.05px;font-size:15.6px;line-height:20.28px;transform:scaleX(0.868);width:1215.44px;text-align:left;">da Silva <i>et al.</i><span class="sp r">43</span> are listed. The Cauchy model fit to the dielectric functions is provided in the <span class="r">supplementary material</span>.</div>
<div class="l serif" style="left:205.30px;top:305.02px;font-size:17.8px;line-height:23.14px;letter-spacing:0.12px;width:200.00px;text-align:center;"><i>A</i></div>
<div class="l serif" style="left:416.50px;top:282.22px;font-size:17.8px;line-height:23.14px;letter-spacing:0.12px;width:200.00px;text-align:center;"><i>B</i></div>
<div class="l serif" style="left:416.50px;top:305.02px;font-size:17.8px;line-height:23.14px;letter-spacing:0.12px;width:200.00px;text-align:center;">10<span class="sp k" style="margin-left:2px">−2</span> <i>μ</i>m<span class="sp k">2</span></div>
<div class="l serif" style="left:614.70px;top:282.22px;font-size:17.8px;line-height:23.14px;letter-spacing:0.12px;width:200.00px;text-align:center;"><i>C</i></div>
<div class="l serif" style="left:614.70px;top:305.02px;font-size:17.8px;line-height:23.14px;letter-spacing:0.12px;width:200.00px;text-align:center;">10<span class="sp k" style="margin-left:2px">−4</span> <i>μ</i>m<span class="sp k">4</span></div>
<div class="l serif" style="left:812.80px;top:305.02px;font-size:17.8px;line-height:23.14px;letter-spacing:0.12px;width:200.00px;text-align:center;">ε<span class="sb inf">∞</span></div>
<div class="l serif" style="left:963.00px;top:305.02px;font-size:17.8px;line-height:23.14px;letter-spacing:0.12px;width:200.00px;text-align:right;">ε<span class="sb inf">∞</span> (Ref. <span class="r">43</span>)</div>
<div class="l serif" style="left:110.00px;top:342.02px;font-size:17.8px;line-height:23.14px;letter-spacing:0.12px;">ε<span class="sb"><i>xx</i></span></div>
<div class="l serif" style="left:205.30px;top:342.02px;font-size:17.8px;line-height:23.14px;letter-spacing:0.12px;width:200.00px;text-align:center;">1.988 + 0.002</div>
<div class="l serif" style="left:416.50px;top:342.02px;font-size:17.8px;line-height:23.14px;letter-spacing:0.12px;width:200.00px;text-align:center;">1.45 + 0.08</div>
<div class="l serif" style="left:614.70px;top:342.02px;font-size:17.8px;line-height:23.14px;letter-spacing:0.12px;width:200.00px;text-align:center;">4.4 + 0.71</div>
<div class="l serif" style="left:812.80px;top:342.02px;font-size:17.8px;line-height:23.14px;letter-spacing:0.12px;width:200.00px;text-align:center;">3.93 + 0.01</div>
<div class="l serif" style="left:1020.00px;top:342.02px;font-size:17.8px;line-height:23.14px;letter-spacing:0.12px;width:200.00px;text-align:center;">4.266</div>
<div class="l serif" style="left:110.00px;top:365.82px;font-size:17.8px;line-height:23.14px;letter-spacing:0.12px;">ε<span class="sb"><i>yy</i></span></div>
<div class="l serif" style="left:205.30px;top:365.82px;font-size:17.8px;line-height:23.14px;letter-spacing:0.12px;width:200.00px;text-align:center;">1.997 + 0.002</div>
<div class="l serif" style="left:416.50px;top:365.82px;font-size:17.8px;line-height:23.14px;letter-spacing:0.12px;width:200.00px;text-align:center;">1.28 + 0.11</div>
<div class="l serif" style="left:614.70px;top:365.82px;font-size:17.8px;line-height:23.14px;letter-spacing:0.12px;width:200.00px;text-align:center;">6.4 + 1.0</div>
<div class="l serif" style="left:812.80px;top:365.82px;font-size:17.8px;line-height:23.14px;letter-spacing:0.12px;width:200.00px;text-align:center;">3.99 + 0.01</div>
<div class="l serif" style="left:1020.00px;top:365.82px;font-size:17.8px;line-height:23.14px;letter-spacing:0.12px;width:200.00px;text-align:center;">4.297</div>
<div class="l serif" style="left:110.00px;top:389.62px;font-size:17.8px;line-height:23.14px;letter-spacing:0.12px;">ε<span class="sb"><i>zz</i></span></div>
<div class="l serif" style="left:205.30px;top:389.62px;font-size:17.8px;line-height:23.14px;letter-spacing:0.12px;width:200.00px;text-align:center;">2.213 + 0.009</div>
<div class="l serif" style="left:416.50px;top:389.62px;font-size:17.8px;line-height:23.14px;letter-spacing:0.12px;width:200.00px;text-align:center;">0.45 + 0.44</div>
<div class="l serif" style="left:614.70px;top:389.62px;font-size:17.8px;line-height:23.14px;letter-spacing:0.12px;width:200.00px;text-align:center;">7.5 + 4.0</div>
<div class="l serif" style="left:812.80px;top:389.62px;font-size:17.8px;line-height:23.14px;letter-spacing:0.12px;width:200.00px;text-align:center;">4.90 + 0.04</div>
<div class="l serif" style="left:1020.00px;top:389.62px;font-size:17.8px;line-height:23.14px;letter-spacing:0.12px;width:200.00px;text-align:center;">4.173</div>
<div class="l serif" style="left:110.00px;top:413.42px;font-size:17.8px;line-height:23.14px;letter-spacing:0.12px;">ε<span class="sb"><span class="perp"></span></span><span class="sp r" style="margin-left:3px">a</span></div>
<div class="l serif" style="left:205.30px;top:413.42px;font-size:17.8px;line-height:23.14px;letter-spacing:0.12px;width:200.00px;text-align:center;">1.95</div>
<div class="l serif" style="left:416.50px;top:413.42px;font-size:17.8px;line-height:23.14px;letter-spacing:0.12px;width:200.00px;text-align:center;">1.13</div>
<div class="l serif" style="left:614.70px;top:413.42px;font-size:17.8px;line-height:23.14px;letter-spacing:0.12px;width:200.00px;text-align:center;">4</div>
<div class="l serif" style="left:812.80px;top:413.42px;font-size:17.8px;line-height:23.14px;letter-spacing:0.12px;width:200.00px;text-align:center;">3.80</div>
<div class="l serif" style="left:110.00px;top:457.18px;font-size:14.0px;line-height:18.2px;letter-spacing:0.1px;"><span class="sp k" style="top:-0.42em">a</span>From Fig. 1 of the supplement of Ref. <span class="r">26</span>.</div>
<div class="l serif" style="left:656.00px;top:504.02px;font-size:18.0px;line-height:23.4px;word-spacing:0.785px;letter-spacing:0.185px;">should be interpreted with caution due to a combination of artifacts,</div>
<div class="l serif" style="left:656.00px;top:525.83px;font-size:18.0px;line-height:23.4px;width:509.00px;text-align:left;">significant broadening, and weak signal-to-noise ratio.</div>
<div class="l serif" style="left:694.50px;top:547.64px;font-size:18.0px;line-height:23.4px;word-spacing:0.772px;letter-spacing:0.182px;">Since the domains of a multi-domain <i>κ</i>-Ga<span class="sb">2</span>O<span class="sb">3</span> sample are rota-</div>
<div class="l serif" style="left:656.00px;top:569.45px;font-size:18.0px;line-height:23.4px;word-spacing:1.588px;letter-spacing:0.375px;">tional domains in the <i>x</i>-<i>y</i>-plane, the average of ε<span class="sb"><i>xx</i></span> and ε<span class="sb"><i>yy</i></span> closely</div>
<div class="l serif" style="left:656.00px;top:591.26px;font-size:18.0px;line-height:23.4px;word-spacing:-0.017px;letter-spacing:-0.009px;">resembles the DF of multi-domain <i>κ</i>-Ga<span class="sb">2</span>O<span class="sb">3</span>,<span class="sp r">22</span> with the only noticeably</div>
<div class="l serif" style="left:656.00px;top:613.07px;font-size:18.0px;line-height:23.4px;word-spacing:1.042px;letter-spacing:0.246px;">difference being a slightly smaller ε<span class="sb">2</span> amplitude of about ~0.3. This</div>
<div class="l serif" style="left:656.00px;top:634.88px;font-size:18.0px;line-height:23.4px;word-spacing:0.579px;letter-spacing:0.137px;">similarity is illustrated for the absorption coefficient <i>α</i> in the inset of</div>
<div class="l serif" style="left:656.00px;top:656.69px;font-size:18.0px;line-height:23.4px;word-spacing:4.120px;letter-spacing:0.520px;">panel (c) of <span class="r">Fig. 4</span> showing <i>α</i> data for multi-domain <i>κ</i>-Ga<span class="sb">2</span>O<span class="sb">3</span></div>
<div class="l serif" style="left:656.00px;top:678.50px;font-size:18.0px;line-height:23.4px;width:509.00px;text-align:left;">from Dittrich <i>et al.</i><span class="sp r">24</span></div>
<div class="l serif" style="left:694.50px;top:700.31px;font-size:18.0px;line-height:23.4px;word-spacing:1.890px;letter-spacing:0.447px;">Comparing the experimental DFs with a theoretical calcula-</div>
<div class="l serif" style="left:656.00px;top:722.12px;font-size:18.0px;line-height:23.4px;word-spacing:1.730px;letter-spacing:0.409px;">tion by Furthmüller and Bechstedt<span class="sp r">48</span> shows that both the order of</div>
<div class="l serif" style="left:656.00px;top:743.93px;font-size:18.0px;line-height:23.4px;word-spacing:1.785px;letter-spacing:0.422px;">the DFs and the amplitude order at the absorption onset are con-</div>
<div class="l serif" style="left:656.00px;top:765.75px;font-size:18.0px;line-height:23.4px;word-spacing:2.233px;letter-spacing:0.520px;">sistent. However, the absolute energy position of the absorption</div>
<div class="l serif" style="left:656.00px;top:787.55px;font-size:18.0px;line-height:23.4px;word-spacing:1.973px;letter-spacing:0.466px;">onset is off by more than 2&#8239;eV for all three DFs. The reason for</div>
<div class="l serif" style="left:656.00px;top:809.36px;font-size:18.0px;line-height:23.4px;word-spacing:1.670px;letter-spacing:0.395px;">this is (1) that the band structure calculations are performed only</div>
<div class="l serif" style="left:656.00px;top:831.17px;font-size:18.0px;line-height:23.4px;word-spacing:1.881px;letter-spacing:0.445px;">at the DFT-GGA level and do not include a quasiparticle correc-</div>
<div class="l serif" style="left:656.00px;top:852.99px;font-size:18.0px;line-height:23.4px;word-spacing:1.938px;letter-spacing:0.458px;">tion via HSE+G<span class="sb">0</span>W<span class="sb">0</span> calculations (as done for <i>α</i>- and <i>β</i>-Ga<span class="sb">2</span>O<span class="sb">3</span> in</div>
<div class="l serif" style="left:656.00px;top:874.79px;font-size:18.0px;line-height:23.4px;word-spacing:1.593px;letter-spacing:0.377px;">Ref. <span class="r">48</span>) and (2) that the DF calculations do not solve the Bethe–</div>
<div class="l serif" style="left:656.00px;top:896.60px;font-size:18.0px;line-height:23.4px;word-spacing:2.119px;letter-spacing:0.501px;">Salpeter equation to account for excitonic effects, which always</div>
<div class="l serif" style="left:656.00px;top:918.41px;font-size:18.0px;line-height:23.4px;word-spacing:1.642px;letter-spacing:0.388px;">play an important role in the fundamental absorption of semicon-</div>
<div class="l serif" style="left:656.00px;top:940.23px;font-size:18.0px;line-height:23.4px;word-spacing:1.358px;letter-spacing:0.321px;">ductor oxides. The first of these two issues was resolved in recent</div>
<div class="l serif" style="left:656.00px;top:962.03px;font-size:18.0px;line-height:23.4px;word-spacing:1.345px;letter-spacing:0.318px;">calculations by da Silva <i>et al.</i><span class="sp r">43</span> using the DFT + A − 1/2 approxi-</div>
<div class="l serif" style="left:656.00px;top:983.84px;font-size:18.0px;line-height:23.4px;word-spacing:3.556px;letter-spacing:0.520px;">mate quasiparticle method which provides absorption onsets at</div>
<div class="l sans" style="left:656.00px;top:1032.25px;font-size:15.6px;line-height:20.28px;transform:scaleX(0.868);word-spacing:0.520px;letter-spacing:0.083px;"><b>TABLE III.</b> Interband transitions energies (<i>E</i><span class="sb">G</span>) of <span class="se"><i>κ</i></span>-Ga<span class="sb">2</span>O<span class="sb">3</span> from experiment and the-</div>
<div class="l sans" style="left:656.00px;top:1050.99px;font-size:15.6px;line-height:20.28px;transform:scaleX(0.868);word-spacing:0.361px;letter-spacing:0.057px;">ory are listed. All experimental results besides this work are from multi-domain sam-</div>
<div class="l sans" style="left:656.00px;top:1069.73px;font-size:15.6px;line-height:20.28px;transform:scaleX(0.868);word-spacing:0.923px;letter-spacing:0.147px;">ples. Results from ultraviolet ellipsometry (UVSE) by Hassa <i>et al.</i><span class="sp r">26</span> are marked <span class="se">ε</span><span class="sb"><span class="perp"></span></span></div>
<div class="l sans" style="left:656.00px;top:1088.47px;font-size:15.6px;line-height:20.28px;transform:scaleX(0.868);word-spacing:0.910px;letter-spacing:0.145px;">since their anisotropic model only contains <span class="se">ε</span><span class="sb"><span class="perp"></span></span> <span class="eq">=</span> <span class="se">ε</span><span class="sb"><i>xx</i></span> <span class="eq">=</span> <span class="se">ε</span><span class="sb"><i>yy</i></span> and <span class="se">ε</span><span class="sb">||</span> <span class="eq">=</span> <span class="se">ε</span><span class="sb"><i>zz</i></span> instead of</div>
<div class="l sans" style="left:656.00px;top:1107.21px;font-size:15.6px;line-height:20.28px;transform:scaleX(0.868);width:586.41px;text-align:left;">all three DFs, as their measured samples exhibit rotational domains in the <i>x</i>-<i>y</i>-plane.</div>
<div class="l serif" style="left:656.00px;top:1148.42px;font-size:17.8px;line-height:23.14px;letter-spacing:0.12px;">Source</div>
<div class="l serif" style="left:781.00px;top:1148.42px;font-size:17.8px;line-height:23.14px;letter-spacing:0.62px;width:200.00px;text-align:center;">Orientation/method</div>
<div class="l serif" style="left:967.00px;top:1148.42px;font-size:17.8px;line-height:23.14px;letter-spacing:0.12px;width:200.00px;text-align:center;"><i>E</i><span class="sb">G</span> (eV)</div>
<div class="l serif" style="left:781.00px;top:1187.02px;font-size:17.8px;line-height:23.14px;letter-spacing:0.12px;width:200.00px;text-align:center;">ε<span class="sb"><i>xx</i></span></div>
<div class="l serif" style="left:947.00px;top:1187.02px;font-size:17.8px;line-height:23.14px;letter-spacing:0.12px;width:240.00px;text-align:center;">5.09 + 0.009</div>
<div class="l serif" style="left:656.00px;top:1210.84px;font-size:17.8px;line-height:23.14px;letter-spacing:0.12px;">UVSE (this work)</div>
<div class="l serif" style="left:781.00px;top:1210.84px;font-size:17.8px;line-height:23.14px;letter-spacing:0.12px;width:200.00px;text-align:center;">ε<span class="sb"><i>yy</i></span></div>
<div class="l serif" style="left:947.00px;top:1210.84px;font-size:17.8px;line-height:23.14px;letter-spacing:0.12px;width:240.00px;text-align:center;">4.82 + 0.016, 5.75 + 0.005</div>
<div class="l serif" style="left:781.00px;top:1234.66px;font-size:17.8px;line-height:23.14px;letter-spacing:0.12px;width:200.00px;text-align:center;">ε<span class="sb"><i>zz</i></span></div>
<div class="l serif" style="left:947.00px;top:1234.66px;font-size:17.8px;line-height:23.14px;letter-spacing:0.12px;width:240.00px;text-align:center;">5.43 + 0.024</div>
<div class="l serif" style="left:656.00px;top:1258.48px;font-size:17.8px;line-height:23.14px;letter-spacing:0.12px;">UVSE</div>
<div class="l serif" style="left:781.00px;top:1258.48px;font-size:17.8px;line-height:23.14px;letter-spacing:0.12px;width:200.00px;text-align:center;">ε<span class="sb"><span class="perp"></span></span></div>
<div class="l serif" style="left:947.00px;top:1258.48px;font-size:17.8px;line-height:23.14px;letter-spacing:0.12px;width:240.00px;text-align:center;">4.90 (Ref. <span class="r">26</span>)</div>
<div class="l serif" style="left:656.00px;top:1282.30px;font-size:17.8px;line-height:23.14px;letter-spacing:0.45px;">Transmission</div>
<div class="l serif" style="left:781.00px;top:1282.30px;font-size:17.8px;line-height:23.14px;letter-spacing:0.35px;width:200.00px;text-align:center;">Tauc-plot</div>
<div class="l serif" style="left:947.00px;top:1282.30px;font-size:17.8px;line-height:23.14px;letter-spacing:0.12px;width:240.00px;text-align:center;">4.92 (Ref. <span class="r">21</span>)</div>
<div class="l serif" style="left:781.00px;top:1306.12px;font-size:17.8px;line-height:23.14px;letter-spacing:0.35px;width:200.00px;text-align:center;">DFT-GGA</div>
<div class="l serif" style="left:947.00px;top:1306.12px;font-size:17.8px;line-height:23.14px;letter-spacing:0.12px;width:240.00px;text-align:center;">2.46 (Ref. <span class="r">48</span>)</div>
<div class="l serif" style="left:781.00px;top:1329.94px;font-size:17.8px;line-height:23.14px;letter-spacing:0.12px;width:200.00px;text-align:center;">PBEsol</div>
<div class="l serif" style="left:947.00px;top:1329.94px;font-size:17.8px;line-height:23.14px;letter-spacing:0.12px;width:240.00px;text-align:center;">2.32 (Ref. <span class="r">11</span>)</div>
<div class="l serif" style="left:656.00px;top:1353.76px;font-size:17.8px;line-height:23.14px;letter-spacing:0.45px;">Theory</div>
<div class="l serif" style="left:781.00px;top:1353.76px;font-size:17.8px;line-height:23.14px;letter-spacing:0.12px;width:200.00px;text-align:center;">B3LYP</div>
<div class="l serif" style="left:947.00px;top:1353.76px;font-size:17.8px;line-height:23.14px;letter-spacing:0.12px;width:240.00px;text-align:center;">4.62 (Ref. <span class="r">11</span>)</div>
<div class="l serif" style="left:781.00px;top:1377.58px;font-size:17.8px;line-height:23.14px;letter-spacing:0.12px;width:200.00px;text-align:center;">PBE</div>
<div class="l serif" style="left:947.00px;top:1377.58px;font-size:17.8px;line-height:23.14px;letter-spacing:0.12px;width:240.00px;text-align:center;">1.97 (Ref. <span class="r">49</span>)</div>
<div class="l serif" style="left:781.00px;top:1401.40px;font-size:17.8px;line-height:23.14px;letter-spacing:0.12px;width:200.00px;text-align:center;">HSE06</div>
<div class="l serif" style="left:947.00px;top:1401.40px;font-size:17.8px;line-height:23.14px;letter-spacing:0.12px;width:240.00px;text-align:center;">4.62 (Ref. <span class="r">49</span>)</div>
<div class="l serif" style="left:781.00px;top:1425.22px;font-size:17.8px;line-height:23.14px;letter-spacing:0.12px;width:200.00px;text-align:center;">DFT<span class="op">+</span>A<span class="op">−</span>1/2</div>
<div class="l serif" style="left:947.00px;top:1425.22px;font-size:17.8px;line-height:23.14px;letter-spacing:0.12px;width:240.00px;text-align:center;">4.68 (Ref. <span class="r">43</span>)</div>
<div class="l sans" style="left:115.00px;top:1336.05px;font-size:15.6px;line-height:20.28px;transform:scaleX(0.868);word-spacing:0.333px;letter-spacing:0.053px;"><b>FIG. 5.</b> Imaginary parts of the point-by-point complex dielectric functions (pbp-DF),</div>
<div class="l sans" style="left:115.00px;top:1354.68px;font-size:15.6px;line-height:20.28px;transform:scaleX(0.868);word-spacing:1.506px;letter-spacing:0.240px;">in the region of the absorption onsets, of single-domain <span class="se"><i>κ</i></span>-Ga<span class="sb">2</span>O<span class="sb">3</span> (red &amp; blue &amp;</div>
<div class="l sans" style="left:115.00px;top:1373.31px;font-size:15.6px;line-height:20.28px;transform:scaleX(0.868);word-spacing:0.686px;letter-spacing:0.109px;">green, solid) and line shape models (dashed and dotted), with <span class="se">ε</span><span class="sb"><i>xx</i></span> in panel (a), <span class="se">ε</span><span class="sb"><i>yy</i></span></div>
<div class="l sans" style="left:115.00px;top:1391.94px;font-size:15.6px;line-height:20.28px;transform:scaleX(0.868);word-spacing:0.120px;letter-spacing:0.019px;">in panel (b) and <span class="se">ε</span><span class="sb"><i>zz</i></span> in panel (c). The overall model (dashed, black) is shown as well</div>
<div class="l sans" style="left:115.00px;top:1410.57px;font-size:15.6px;line-height:20.28px;transform:scaleX(0.868);word-spacing:-0.043px;letter-spacing:-0.029px;">as the different parts of the model (dotted) such as the first transition (pink), the sec-</div>
<div class="l sans" style="left:115.00px;top:1429.20px;font-size:15.6px;line-height:20.28px;transform:scaleX(0.868);word-spacing:0.267px;letter-spacing:0.043px;">ond transition (green) or higher interband transitions (gray). The determined transi-</div>
<div class="l sans" style="left:115.00px;top:1447.83px;font-size:15.6px;line-height:20.28px;transform:scaleX(0.868);width:575.46px;text-align:left;">tion energies are given in parenthesis in the legend.</div>
<div class="l sans" style="left:80.00px;top:1544.46px;font-size:16.2px;line-height:21.06px;transform:scaleX(0.83);">Appl. Phys. Lett. <b>127</b>, 172106 (2025); doi: 10.1063/5.0302622</div>
<div class="l sans" style="left:80.00px;top:1571.26px;font-size:16.2px;line-height:21.06px;transform:scaleX(0.85);">© Author(s) 2025</div>
<div class="l sans" style="left:975.00px;top:1544.46px;font-size:16.2px;line-height:21.06px;transform:scaleX(0.83);width:240.96px;text-align:right;"><b>127</b>, 172106-5</div>
</body></html>
